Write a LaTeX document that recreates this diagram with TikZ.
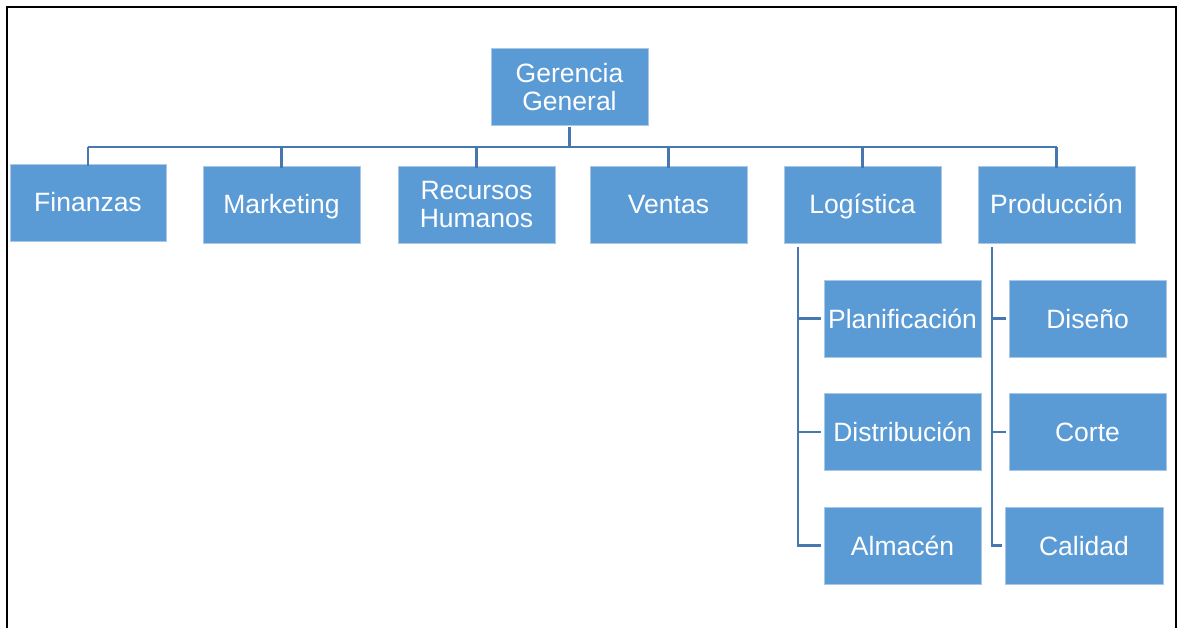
\documentclass[tikz,border=0pt]{standalone}
\usepackage{fontspec}
\setmainfont{Liberation Sans}
\definecolor{boxblue}{HTML}{5B9BD5}
\definecolor{boxedge}{HTML}{A9C8E8}
\definecolor{linkblue}{HTML}{4677AE}
\begin{document}
\begin{tikzpicture}[x=1pt,y=-1pt,
  unit/.style={rectangle, fill=boxblue, draw=boxedge, line width=0.8pt,
    text=white, inner sep=0pt, minimum width=157pt, minimum height=77pt,
    align=center, font=\fontsize{26.5}{28}\selectfont},
  oneline/.style={unit, text height=19pt, text depth=0pt},
  twoline/.style={unit, text depth=0pt},
  link/.style={draw=linkblue, line width=2.6pt, line join=miter},
  frame/.style={draw=black, line width=2pt}]
\useasboundingbox (0,0) rectangle (1182,628);
\fill[white] (0,0) rectangle (1182,628);
\draw[frame] (7,628) -- (7,7) -- (1176,7) -- (1176,628);

% top of the chart
\node[twoline] (gg) at (569.5,86.5) {Gerencia\\General};

% departments
\node[oneline, minimum width=156pt] (fin) at (88,202.5) {Finanzas};
\node[oneline] (mkt) at (281.5,204.5) {Marketing};
\node[twoline] (rh) at (476.5,204.5) {Recursos\\Humanos};
\node[oneline] (ven) at (668.5,204.5) {Ventas};
\node[oneline] (log) at (862.5,204.5) {Logística};
\node[oneline] (prod) at (1056.5,204.5) {Producción};

% logistics units
\node[oneline] (plan) at (902.5,318.5) {Planificación};
\node[oneline] (dist) at (902.5,432) {Distribución};
\node[oneline] (alm) at (902.5,545.5) {Almacén};

% production units
\node[oneline] (dis) at (1087.5,318.5) {Diseño};
\node[oneline] (cor) at (1087.5,432) {Corte};
\node[oneline, minimum width=158pt] (cal) at (1084,545.5) {Calidad};

% bus under the general management
\coordinate (bus) at (569.5,147);
\draw[link] ([yshift=-2pt]gg.south) -- (gg.south |- bus);
\draw[link] (bus -| fin.north) -- (bus -| prod.north);
\foreach \d in {fin,mkt,rh,ven,log,prod}
  \draw[link] (bus -| \d.north) -- ([yshift=-2pt]\d.north);

% logistics branch
\coordinate (lv) at (798,247);
\draw[link] (lv) |- ([xshift=-3pt]alm.west);
\foreach \u in {plan,dist}
  \draw[link] (lv |- \u.west) -- ([xshift=-3pt]\u.west);

% production branch
\coordinate (pv) at (992,247);
\draw[link] (pv) |- ([xshift=-3pt]cal.west);
\foreach \u in {dis,cor}
  \draw[link] (pv |- \u.west) -- ([xshift=-3pt]\u.west);
\end{tikzpicture}
\end{document}
